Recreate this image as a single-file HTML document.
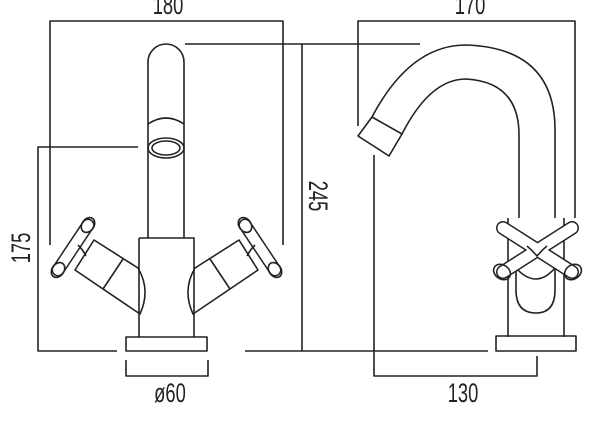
<!DOCTYPE html>
<html><head><meta charset="utf-8"><style>
html,body{margin:0;padding:0;background:#fff;}
svg{display:block;}
text{font-family:"Liberation Sans",sans-serif;font-size:27px;fill:#222;}
</style></head><body>
<svg width="600" height="441" viewBox="0 0 600 441" xmlns="http://www.w3.org/2000/svg">
<g fill="none" stroke="#222" stroke-width="1.6" stroke-linejoin="round">
<polyline points="50,245 50,21 283,21 283,245"/>
<line x1="185" y1="44" x2="420" y2="44"/>
<line x1="302" y1="44" x2="302" y2="351"/>
<line x1="245" y1="351" x2="488" y2="351"/>
<polyline points="138,147 38,147 38,351 117,351"/>
<polyline points="126,360 126,376 208,376 208,360"/>
<path d="M148,238 L148,62 A18,18 0 0 1 184,62 L184,238"/>
<path d="M148,124 Q166,112 184,124"/>
<ellipse cx="166" cy="148" rx="18" ry="10"/>
<ellipse cx="166" cy="148" rx="14" ry="7"/>
<path d="M139,238 L194,238 L194,337 M139,238 L139,337"/>
<rect x="126" y="337" width="81" height="14"/>
<path d="M94,240 L138,268 Q151,290 140,314 L75,270 Z"/>
<line x1="123" y1="259" x2="103" y2="289"/>
<path d="M88,225 L58,270" stroke-width="13" stroke-linecap="round"/>
<path d="M88,225 L58,270" stroke="#fff" stroke-width="10" stroke-linecap="round"/>
<ellipse cx="58" cy="270" rx="8" ry="6" transform="rotate(-55 58 270)"/>
<ellipse cx="88" cy="225" rx="8" ry="6" transform="rotate(-55 88 225)"/>
<path d="M78,245 Q83,250 86,256"/>
<g transform="translate(333,0) scale(-1,1)">
<path d="M94,240 L138,268 Q151,290 140,314 L75,270 Z"/>
<line x1="123" y1="259" x2="103" y2="289"/>
<path d="M88,225 L58,270" stroke-width="13" stroke-linecap="round"/>
<path d="M88,225 L58,270" stroke="#fff" stroke-width="10" stroke-linecap="round"/>
<ellipse cx="58" cy="270" rx="8" ry="6" transform="rotate(-55 58 270)"/>
<ellipse cx="88" cy="225" rx="8" ry="6" transform="rotate(-55 88 225)"/>
<path d="M78,245 Q83,250 86,256"/>
</g>
<polyline points="358,126 358,21 575,21 575,218"/>
<polyline points="374,155 374,376 537,376 537,356"/>
<path d="M372,117 Q410,45 466,45 Q555,48 555,130 L555,218"/>
<path d="M402,134 Q430,79 466,79 Q519,82 519,135 L519,218"/>
<path d="M358,136 L372,117 L402,134 L389,156 Z"/>
<line x1="508" y1="218" x2="508" y2="337"/>
<line x1="564" y1="218" x2="564" y2="337"/>
<rect x="496" y="336" width="80" height="15"/>
<path d="M516,268 L516,290 Q516,313 536,313 Q555,313 555,290 L555,268"/>
<path d="M516,268 Q536,290 555,268" />
<path d="M520,262 Q536,252 552,262"/>
<g stroke-linecap="round">
<line x1="503" y1="228" x2="572" y2="272" stroke-width="14"/>
<line x1="572" y1="228" x2="503" y2="272" stroke-width="14"/>
<line x1="503" y1="228" x2="572" y2="272" stroke="#fff" stroke-width="11"/>
<line x1="572" y1="228" x2="503" y2="272" stroke="#fff" stroke-width="11"/>
</g>
<ellipse cx="502" cy="272" rx="7" ry="9" transform="rotate(-55 502 272)"/>
<ellipse cx="573" cy="272" rx="7" ry="9" transform="rotate(55 573 272)"/>
<path d="M527,246 Q532,250 537,256 Q542,250 547,246"/>
</g>
<g>
<text transform="translate(168,14) scale(0.68,1)" text-anchor="middle">180</text>
<text transform="translate(470,14) scale(0.68,1)" text-anchor="middle">170</text>
<text transform="translate(170,402) scale(0.68,1)" text-anchor="middle">ø60</text>
<text transform="translate(463,402) scale(0.68,1)" text-anchor="middle">130</text>
<text transform="translate(30,248) rotate(-90) scale(0.68,1)" text-anchor="middle">175</text>
<text transform="translate(309,196) rotate(90) scale(0.68,1)" text-anchor="middle">245</text>
</g>
</svg>
</body></html>
